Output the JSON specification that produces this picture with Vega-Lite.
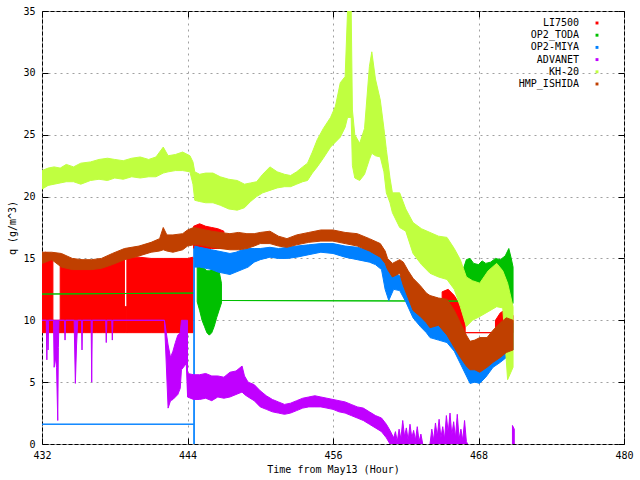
{
  "$schema": "https://vega.github.io/schema/vega-lite/v6.json",
  "width": 582,
  "height": 433,
  "autosize": {"type": "none"},
  "padding": {"left": 42, "top": 11, "right": 16, "bottom": 36},
  "background": "white",
  "config": {
    "font": "DejaVu Sans Mono",
    "view": {"stroke": "black", "strokeWidth": 1},
    "axis": {
      "labelFont": "DejaVu Sans Mono", "labelFontSize": 10, "labelColor": "black", "labelFlush": false,
      "titleFont": "DejaVu Sans Mono", "titleFontSize": 10, "titleFontWeight": "normal", "titleColor": "black",
      "tickColor": "black", "tickSize": -6, "domain": false,
      "gridColor": "#a0a0a0", "gridDash": [2, 4], "gridWidth": 1
    }
  },
  "datasets": {
    "li7500": [
      {"g": 1, "h": 432.0, "lo": 9, "hi": 15.3}, {"g": 1, "h": 432.3, "lo": 9, "hi": 15.5}, {"g": 1, "h": 432.6, "lo": 9, "hi": 15.4}, {"g": 1, "h": 432.9, "lo": 9, "hi": 15.2},
      {"g": 2, "h": 432.9, "lo": 9, "hi": 10}, {"g": 2, "h": 433.5, "lo": 9, "hi": 10},
      {"g": 3, "h": 433.5, "lo": 9, "hi": 14.6}, {"g": 3, "h": 434.0, "lo": 9, "hi": 14.4}, {"g": 3, "h": 434.5, "lo": 9, "hi": 14.3}, {"g": 3, "h": 435.0, "lo": 9, "hi": 14.3}, {"g": 3, "h": 435.5, "lo": 9, "hi": 14.4}, {"g": 3, "h": 436.0, "lo": 9, "hi": 14.4}, {"g": 3, "h": 436.5, "lo": 9, "hi": 14.5}, {"g": 3, "h": 437.0, "lo": 9, "hi": 14.6}, {"g": 3, "h": 437.5, "lo": 9, "hi": 14.7}, {"g": 3, "h": 438.0, "lo": 9, "hi": 14.8}, {"g": 3, "h": 438.8, "lo": 9, "hi": 14.9},
      {"g": 4, "h": 438.8, "lo": 9, "hi": 11.1}, {"g": 4, "h": 439.0, "lo": 9, "hi": 11.1},
      {"g": 5, "h": 439.0, "lo": 9, "hi": 15.0}, {"g": 5, "h": 439.5, "lo": 9, "hi": 15.1}, {"g": 5, "h": 440.0, "lo": 9, "hi": 15.1}, {"g": 5, "h": 441.0, "lo": 9, "hi": 15.0}, {"g": 5, "h": 442.0, "lo": 9, "hi": 15.0}, {"g": 5, "h": 443.0, "lo": 9, "hi": 15.0}, {"g": 5, "h": 444.0, "lo": 9, "hi": 15.0}, {"g": 5, "h": 444.45, "lo": 9, "hi": 15.1},
      {"g": 6, "h": 444.5, "lo": 15.8, "hi": 17.6}, {"g": 6, "h": 445.0, "lo": 15.8, "hi": 17.8}, {"g": 6, "h": 445.5, "lo": 15.8, "hi": 17.6}, {"g": 6, "h": 446.0, "lo": 15.8, "hi": 17.5}, {"g": 6, "h": 446.5, "lo": 15.8, "hi": 17.4}, {"g": 6, "h": 447.0, "lo": 15.8, "hi": 17.2},
      {"g": 7, "h": 465.0, "lo": 9.5, "hi": 12.3}, {"g": 7, "h": 465.5, "lo": 9.5, "hi": 12.5}, {"g": 7, "h": 466.0, "lo": 9.2, "hi": 12.0}, {"g": 7, "h": 466.5, "lo": 9.0, "hi": 11.2}, {"g": 7, "h": 466.9, "lo": 9.0, "hi": 9.6},
      {"g": 8, "h": 466.9, "lo": 9.0, "hi": 9.0}, {"g": 8, "h": 469.4, "lo": 9.0, "hi": 9.0},
      {"g": 9, "h": 469.4, "lo": 9.0, "hi": 10.0}, {"g": 9, "h": 469.8, "lo": 9.0, "hi": 10.6}, {"g": 9, "h": 470.3, "lo": 9.0, "hi": 10.9}, {"g": 9, "h": 470.85, "lo": 9.0, "hi": 10.4}
    ],
    "toda": [
      {"g": 1, "h": 432.0, "lo": 12.12, "hi": 12.12}, {"g": 1, "h": 444.5, "lo": 12.2, "hi": 12.2},
      {"g": 2, "h": 444.8, "lo": 11.5, "hi": 14.3}, {"g": 2, "h": 445.0, "lo": 10.8, "hi": 14.5}, {"g": 2, "h": 445.2, "lo": 10.0, "hi": 14.3}, {"g": 2, "h": 445.4, "lo": 9.5, "hi": 14.2}, {"g": 2, "h": 445.6, "lo": 9.0, "hi": 14.0}, {"g": 2, "h": 445.8, "lo": 8.8, "hi": 14.0}, {"g": 2, "h": 446.0, "lo": 9.0, "hi": 14.1}, {"g": 2, "h": 446.2, "lo": 9.5, "hi": 14.2}, {"g": 2, "h": 446.4, "lo": 10.2, "hi": 14.2}, {"g": 2, "h": 446.6, "lo": 10.8, "hi": 14.0}, {"g": 2, "h": 446.8, "lo": 11.4, "hi": 13.0},
      {"g": 3, "h": 446.8, "lo": 11.6, "hi": 11.6}, {"g": 3, "h": 466.5, "lo": 11.55, "hi": 11.55},
      {"g": 4, "h": 466.5, "lo": 12.5, "hi": 13.5}, {"g": 4, "h": 466.8, "lo": 11.5, "hi": 14.3}, {"g": 4, "h": 467.0, "lo": 11.1, "hi": 14.9}, {"g": 4, "h": 467.3, "lo": 11.2, "hi": 15.0}, {"g": 4, "h": 467.6, "lo": 11.3, "hi": 14.6}, {"g": 4, "h": 468.0, "lo": 11.4, "hi": 14.5}, {"g": 4, "h": 468.3, "lo": 11.8, "hi": 14.8}, {"g": 4, "h": 468.6, "lo": 11.9, "hi": 14.6}, {"g": 4, "h": 469.0, "lo": 11.9, "hi": 14.7}, {"g": 4, "h": 469.4, "lo": 11.6, "hi": 15.0}, {"g": 4, "h": 469.8, "lo": 11.4, "hi": 14.9}, {"g": 4, "h": 470.2, "lo": 11.2, "hi": 15.2}, {"g": 4, "h": 470.5, "lo": 11.0, "hi": 15.8}, {"g": 4, "h": 470.7, "lo": 11.1, "hi": 15.0}, {"g": 4, "h": 470.85, "lo": 11.4, "hi": 14.3}
    ],
    "miya": [
      {"g": 1, "h": 432.0, "lo": 1.6, "hi": 1.6}, {"g": 1, "h": 444.5, "lo": 1.6, "hi": 1.6},
      {"g": 2, "h": 444.52, "lo": 0, "hi": 15.8}, {"g": 2, "h": 444.56, "lo": 0, "hi": 15.8},
      {"g": 3, "h": 444.6, "lo": 14.3, "hi": 16.0}, {"g": 3, "h": 445.0, "lo": 14.3, "hi": 15.9}, {"g": 3, "h": 445.5, "lo": 14.2, "hi": 15.8}, {"g": 3, "h": 446.0, "lo": 14.1, "hi": 15.7}, {"g": 3, "h": 446.5, "lo": 13.9, "hi": 15.6}, {"g": 3, "h": 447.0, "lo": 13.8, "hi": 15.5}, {"g": 3, "h": 447.5, "lo": 13.7, "hi": 15.4}, {"g": 3, "h": 448.0, "lo": 13.9, "hi": 15.5}, {"g": 3, "h": 448.5, "lo": 14.1, "hi": 15.7}, {"g": 3, "h": 449.0, "lo": 14.3, "hi": 15.8}, {"g": 3, "h": 449.5, "lo": 14.7, "hi": 15.8}, {"g": 3, "h": 450.0, "lo": 14.9, "hi": 15.8}, {"g": 3, "h": 450.8, "lo": 15.1, "hi": 15.9}, {"g": 3, "h": 451.5, "lo": 15.0, "hi": 15.8}, {"g": 3, "h": 452.2, "lo": 15.0, "hi": 15.9}, {"g": 3, "h": 453.0, "lo": 15.1, "hi": 16.0}, {"g": 3, "h": 454.0, "lo": 15.3, "hi": 16.1}, {"g": 3, "h": 455.0, "lo": 15.5, "hi": 16.2}, {"g": 3, "h": 456.0, "lo": 15.4, "hi": 16.2}, {"g": 3, "h": 457.0, "lo": 15.1, "hi": 16.0}, {"g": 3, "h": 458.0, "lo": 14.9, "hi": 15.9}, {"g": 3, "h": 459.0, "lo": 14.7, "hi": 15.7}, {"g": 3, "h": 459.5, "lo": 14.5, "hi": 15.5}, {"g": 3, "h": 460.0, "lo": 14.1, "hi": 15.2}, {"g": 3, "h": 460.3, "lo": 12.5, "hi": 14.6}, {"g": 3, "h": 460.6, "lo": 11.6, "hi": 14.3}, {"g": 3, "h": 461.0, "lo": 12.5, "hi": 13.9}, {"g": 3, "h": 461.5, "lo": 12.4, "hi": 13.6}, {"g": 3, "h": 462.0, "lo": 11.5, "hi": 13.0}, {"g": 3, "h": 462.6, "lo": 10.2, "hi": 12.2}, {"g": 3, "h": 463.2, "lo": 9.5, "hi": 11.4}, {"g": 3, "h": 463.7, "lo": 9.0, "hi": 10.6}, {"g": 3, "h": 464.0, "lo": 8.6, "hi": 10.8}, {"g": 3, "h": 464.7, "lo": 8.4, "hi": 10.5}, {"g": 3, "h": 465.4, "lo": 8.2, "hi": 10.3}, {"g": 3, "h": 466.0, "lo": 7.5, "hi": 9.5}, {"g": 3, "h": 466.5, "lo": 6.5, "hi": 8.6}, {"g": 3, "h": 467.0, "lo": 5.5, "hi": 7.6}, {"g": 3, "h": 467.3, "lo": 4.9, "hi": 7.0}, {"g": 3, "h": 467.7, "lo": 5.0, "hi": 7.3}, {"g": 3, "h": 468.1, "lo": 4.9, "hi": 7.6}, {"g": 3, "h": 468.6, "lo": 5.4, "hi": 8.0}, {"g": 3, "h": 469.2, "lo": 6.2, "hi": 8.6}, {"g": 3, "h": 469.8, "lo": 6.6, "hi": 9.2}, {"g": 3, "h": 470.3, "lo": 7.0, "hi": 9.8}, {"g": 3, "h": 470.85, "lo": 7.6, "hi": 9.8}
    ],
    "advanet": [
      {"g": 1, "h": 432.0, "lo": 10, "hi": 10}, {"g": 1, "h": 432.35, "lo": 10, "hi": 10}, {"g": 1, "h": 432.4, "lo": 6.8, "hi": 10}, {"g": 1, "h": 432.45, "lo": 10, "hi": 10}, {"g": 1, "h": 432.5, "lo": 7.6, "hi": 10}, {"g": 1, "h": 432.55, "lo": 10, "hi": 10}, {"g": 1, "h": 432.95, "lo": 10, "hi": 10}, {"g": 1, "h": 433.0, "lo": 6.2, "hi": 10}, {"g": 1, "h": 433.1, "lo": 7.0, "hi": 10}, {"g": 1, "h": 433.2, "lo": 6.2, "hi": 10}, {"g": 1, "h": 433.3, "lo": 1.9, "hi": 10}, {"g": 1, "h": 433.35, "lo": 7.8, "hi": 10}, {"g": 1, "h": 433.4, "lo": 10, "hi": 10}, {"g": 1, "h": 433.85, "lo": 10, "hi": 10}, {"g": 1, "h": 433.9, "lo": 8.4, "hi": 10}, {"g": 1, "h": 433.95, "lo": 10, "hi": 10}, {"g": 1, "h": 434.65, "lo": 10, "hi": 10}, {"g": 1, "h": 434.75, "lo": 4.9, "hi": 10}, {"g": 1, "h": 434.85, "lo": 8.0, "hi": 10}, {"g": 1, "h": 434.95, "lo": 10, "hi": 10}, {"g": 1, "h": 435.25, "lo": 10, "hi": 10}, {"g": 1, "h": 435.3, "lo": 7.6, "hi": 10}, {"g": 1, "h": 435.35, "lo": 10, "hi": 10}, {"g": 1, "h": 436.05, "lo": 10, "hi": 10}, {"g": 1, "h": 436.1, "lo": 5.0, "hi": 10}, {"g": 1, "h": 436.15, "lo": 10, "hi": 10}, {"g": 1, "h": 437.25, "lo": 10, "hi": 10}, {"g": 1, "h": 437.3, "lo": 8.2, "hi": 10}, {"g": 1, "h": 437.35, "lo": 10, "hi": 10}, {"g": 1, "h": 437.75, "lo": 10, "hi": 10}, {"g": 1, "h": 437.8, "lo": 8.4, "hi": 10}, {"g": 1, "h": 437.85, "lo": 10, "hi": 10}, {"g": 1, "h": 442.1, "lo": 10, "hi": 10}, {"g": 1, "h": 442.4, "lo": 2.9, "hi": 8.0}, {"g": 1, "h": 442.6, "lo": 3.5, "hi": 7.0}, {"g": 1, "h": 442.8, "lo": 3.6, "hi": 7.5}, {"g": 1, "h": 443.0, "lo": 3.8, "hi": 8.2}, {"g": 1, "h": 443.2, "lo": 4.0, "hi": 8.8}, {"g": 1, "h": 443.4, "lo": 4.5, "hi": 9.0}, {"g": 1, "h": 443.5, "lo": 6.0, "hi": 10}, {"g": 1, "h": 443.9, "lo": 6.5, "hi": 10}, {"g": 1, "h": 444.0, "lo": 4.0, "hi": 10},
      {"g": 2, "h": 444.0, "lo": 3.8, "hi": 5.7}, {"g": 2, "h": 444.5, "lo": 3.6, "hi": 5.6}, {"g": 2, "h": 445.0, "lo": 3.6, "hi": 5.6}, {"g": 2, "h": 445.5, "lo": 3.7, "hi": 5.7}, {"g": 2, "h": 446.0, "lo": 3.5, "hi": 5.5}, {"g": 2, "h": 446.5, "lo": 3.8, "hi": 5.5}, {"g": 2, "h": 447.0, "lo": 3.7, "hi": 5.4}, {"g": 2, "h": 447.5, "lo": 3.8, "hi": 5.8}, {"g": 2, "h": 448.0, "lo": 4.0, "hi": 5.9}, {"g": 2, "h": 448.5, "lo": 4.2, "hi": 6.3}, {"g": 2, "h": 448.7, "lo": 4.0, "hi": 5.5}, {"g": 2, "h": 449.0, "lo": 3.8, "hi": 5.0}, {"g": 2, "h": 449.5, "lo": 3.5, "hi": 4.8}, {"g": 2, "h": 450.0, "lo": 3.0, "hi": 4.3}, {"g": 2, "h": 450.5, "lo": 2.8, "hi": 3.9}, {"g": 2, "h": 451.0, "lo": 2.6, "hi": 3.6}, {"g": 2, "h": 451.5, "lo": 2.5, "hi": 3.4}, {"g": 2, "h": 452.0, "lo": 2.4, "hi": 3.2}, {"g": 2, "h": 452.5, "lo": 2.5, "hi": 3.3}, {"g": 2, "h": 453.0, "lo": 2.7, "hi": 3.5}, {"g": 2, "h": 453.5, "lo": 2.9, "hi": 3.7}, {"g": 2, "h": 454.0, "lo": 3.0, "hi": 3.8}, {"g": 2, "h": 454.5, "lo": 3.0, "hi": 3.9}, {"g": 2, "h": 455.0, "lo": 3.0, "hi": 3.8}, {"g": 2, "h": 455.5, "lo": 2.9, "hi": 3.7}, {"g": 2, "h": 456.0, "lo": 2.8, "hi": 3.6}, {"g": 2, "h": 456.5, "lo": 2.6, "hi": 3.5}, {"g": 2, "h": 457.0, "lo": 2.5, "hi": 3.4}, {"g": 2, "h": 457.5, "lo": 2.3, "hi": 3.2}, {"g": 2, "h": 458.0, "lo": 2.1, "hi": 3.0}, {"g": 2, "h": 458.5, "lo": 1.9, "hi": 2.9}, {"g": 2, "h": 459.0, "lo": 1.6, "hi": 2.6}, {"g": 2, "h": 459.5, "lo": 1.3, "hi": 2.3}, {"g": 2, "h": 460.0, "lo": 1.0, "hi": 2.1}, {"g": 2, "h": 460.4, "lo": 0.5, "hi": 1.6}, {"g": 2, "h": 460.7, "lo": 0, "hi": 1.1}, {"g": 2, "h": 461.0, "lo": 0, "hi": 0.5}, {"g": 2, "h": 461.15, "lo": 0, "hi": 1.0}, {"g": 2, "h": 461.3, "lo": 0, "hi": 0.2}, {"g": 2, "h": 461.45, "lo": 0, "hi": 1.2}, {"g": 2, "h": 461.6, "lo": 0, "hi": 0.4}, {"g": 2, "h": 461.75, "lo": 0, "hi": 1.9}, {"g": 2, "h": 461.9, "lo": 0, "hi": 0.6}, {"g": 2, "h": 462.05, "lo": 0, "hi": 1.3}, {"g": 2, "h": 462.2, "lo": 0, "hi": 0.3}, {"g": 2, "h": 462.35, "lo": 0, "hi": 1.6}, {"g": 2, "h": 462.5, "lo": 0, "hi": 0.5}, {"g": 2, "h": 462.65, "lo": 0, "hi": 1.1}, {"g": 2, "h": 462.8, "lo": 0, "hi": 0.3}, {"g": 2, "h": 462.95, "lo": 0, "hi": 1.4}, {"g": 2, "h": 463.1, "lo": 0, "hi": 0.2}, {"g": 2, "h": 463.25, "lo": 0, "hi": 0.8}, {"g": 2, "h": 463.4, "lo": 0, "hi": 0},
      {"g": 3, "h": 464.0, "lo": 0, "hi": 0}, {"g": 3, "h": 464.15, "lo": 0, "hi": 1.2}, {"g": 3, "h": 464.3, "lo": 0, "hi": 0.3}, {"g": 3, "h": 464.45, "lo": 0, "hi": 1.7}, {"g": 3, "h": 464.6, "lo": 0, "hi": 0.6}, {"g": 3, "h": 464.75, "lo": 0, "hi": 2.0}, {"g": 3, "h": 464.9, "lo": 0, "hi": 0.5}, {"g": 3, "h": 465.05, "lo": 0, "hi": 1.4}, {"g": 3, "h": 465.2, "lo": 0, "hi": 0.4}, {"g": 3, "h": 465.35, "lo": 0, "hi": 2.3}, {"g": 3, "h": 465.5, "lo": 0, "hi": 0.9}, {"g": 3, "h": 465.65, "lo": 0, "hi": 2.5}, {"g": 3, "h": 465.8, "lo": 0, "hi": 0.7}, {"g": 3, "h": 465.95, "lo": 0, "hi": 1.8}, {"g": 3, "h": 466.1, "lo": 0, "hi": 0.5}, {"g": 3, "h": 466.25, "lo": 0, "hi": 2.4}, {"g": 3, "h": 466.4, "lo": 0, "hi": 0.4}, {"g": 3, "h": 466.55, "lo": 0, "hi": 1.2}, {"g": 3, "h": 466.7, "lo": 0, "hi": 0.3}, {"g": 3, "h": 466.85, "lo": 0, "hi": 1.9}, {"g": 3, "h": 467.0, "lo": 0, "hi": 0.2}, {"g": 3, "h": 467.1, "lo": 0, "hi": 0},
      {"g": 4, "h": 470.8, "lo": 0, "hi": 1.5}, {"g": 4, "h": 470.95, "lo": 0, "hi": 1.2}
    ],
    "kh20": [
      {"g": 1, "h": 432.0, "lo": 20.6, "hi": 22.1}, {"g": 1, "h": 432.5, "lo": 20.9, "hi": 22.3}, {"g": 1, "h": 433.0, "lo": 21.0, "hi": 22.4}, {"g": 1, "h": 433.5, "lo": 21.1, "hi": 22.3}, {"g": 1, "h": 434.0, "lo": 21.2, "hi": 22.6}, {"g": 1, "h": 434.6, "lo": 21.2, "hi": 22.4}, {"g": 1, "h": 435.2, "lo": 21.0, "hi": 22.7}, {"g": 1, "h": 436.0, "lo": 21.3, "hi": 22.8}, {"g": 1, "h": 436.7, "lo": 21.4, "hi": 23.0}, {"g": 1, "h": 437.4, "lo": 21.3, "hi": 23.1}, {"g": 1, "h": 438.0, "lo": 21.5, "hi": 23.0}, {"g": 1, "h": 438.7, "lo": 21.4, "hi": 22.9}, {"g": 1, "h": 439.4, "lo": 21.6, "hi": 23.1}, {"g": 1, "h": 440.1, "lo": 21.5, "hi": 23.2}, {"g": 1, "h": 440.8, "lo": 21.6, "hi": 23.0}, {"g": 1, "h": 441.4, "lo": 21.6, "hi": 23.2}, {"g": 1, "h": 442.0, "lo": 21.9, "hi": 24.0}, {"g": 1, "h": 442.4, "lo": 22.0, "hi": 23.3}, {"g": 1, "h": 443.0, "lo": 22.1, "hi": 23.4}, {"g": 1, "h": 443.6, "lo": 22.1, "hi": 23.6}, {"g": 1, "h": 444.2, "lo": 22.0, "hi": 23.3}, {"g": 1, "h": 444.45, "lo": 21.0, "hi": 22.8},
      {"g": 1, "h": 444.6, "lo": 19.7, "hi": 22.0}, {"g": 1, "h": 445.0, "lo": 19.6, "hi": 21.8}, {"g": 1, "h": 445.5, "lo": 19.5, "hi": 21.9}, {"g": 1, "h": 446.1, "lo": 19.5, "hi": 21.9}, {"g": 1, "h": 446.7, "lo": 19.3, "hi": 21.6}, {"g": 1, "h": 447.4, "lo": 19.0, "hi": 21.4}, {"g": 1, "h": 448.1, "lo": 18.9, "hi": 21.3}, {"g": 1, "h": 448.7, "lo": 19.1, "hi": 21.0}, {"g": 1, "h": 449.2, "lo": 19.6, "hi": 21.1}, {"g": 1, "h": 449.7, "lo": 20.0, "hi": 21.2}, {"g": 1, "h": 450.2, "lo": 20.3, "hi": 21.8}, {"g": 1, "h": 450.8, "lo": 20.5, "hi": 22.4}, {"g": 1, "h": 451.4, "lo": 20.7, "hi": 22.0}, {"g": 1, "h": 452.0, "lo": 20.8, "hi": 21.8}, {"g": 1, "h": 452.5, "lo": 20.8, "hi": 21.7}, {"g": 1, "h": 453.0, "lo": 21.0, "hi": 22.0}, {"g": 1, "h": 453.5, "lo": 21.2, "hi": 22.4}, {"g": 1, "h": 453.9, "lo": 21.3, "hi": 22.7}, {"g": 1, "h": 454.3, "lo": 21.9, "hi": 23.6}, {"g": 1, "h": 454.7, "lo": 22.4, "hi": 24.6}, {"g": 1, "h": 455.2, "lo": 23.1, "hi": 25.5}, {"g": 1, "h": 455.8, "lo": 24.0, "hi": 26.4}, {"g": 1, "h": 456.2, "lo": 24.4, "hi": 27.3}, {"g": 1, "h": 456.6, "lo": 24.8, "hi": 29.2}, {"g": 1, "h": 457.0, "lo": 25.6, "hi": 29.7}, {"g": 1, "h": 457.2, "lo": 26.4, "hi": 35}, {"g": 1, "h": 457.5, "lo": 26.4, "hi": 35}, {"g": 1, "h": 457.6, "lo": 22.5, "hi": 27.0}, {"g": 1, "h": 457.8, "lo": 21.5, "hi": 25.0}, {"g": 1, "h": 458.2, "lo": 21.3, "hi": 24.3}, {"g": 1, "h": 458.6, "lo": 21.8, "hi": 25.5}, {"g": 1, "h": 459.0, "lo": 23.0, "hi": 30.5}, {"g": 1, "h": 459.2, "lo": 23.5, "hi": 31.7}, {"g": 1, "h": 459.5, "lo": 23.3, "hi": 29.5}, {"g": 1, "h": 459.9, "lo": 23.2, "hi": 27.8}, {"g": 1, "h": 460.2, "lo": 22.0, "hi": 25.5}, {"g": 1, "h": 460.4, "lo": 20.3, "hi": 23.8}, {"g": 1, "h": 460.7, "lo": 19.5, "hi": 21.5}, {"g": 1, "h": 460.9, "lo": 18.7, "hi": 20.3}, {"g": 1, "h": 461.5, "lo": 17.5, "hi": 20.3}, {"g": 1, "h": 462.0, "lo": 17.2, "hi": 19.0}, {"g": 1, "h": 462.6, "lo": 15.4, "hi": 17.9}, {"g": 1, "h": 463.3, "lo": 14.5, "hi": 17.4}, {"g": 1, "h": 464.0, "lo": 13.8, "hi": 17.1}, {"g": 1, "h": 464.7, "lo": 13.5, "hi": 16.8}, {"g": 1, "h": 465.4, "lo": 13.3, "hi": 16.7}, {"g": 1, "h": 466.0, "lo": 12.5, "hi": 15.8}, {"g": 1, "h": 466.5, "lo": 11.1, "hi": 14.9}, {"g": 1, "h": 467.0, "lo": 9.5, "hi": 13.5}, {"g": 1, "h": 467.5, "lo": 10.0, "hi": 13.2}, {"g": 1, "h": 468.1, "lo": 10.3, "hi": 13.0}, {"g": 1, "h": 468.8, "lo": 10.7, "hi": 14.0}, {"g": 1, "h": 469.5, "lo": 11.1, "hi": 14.6}, {"g": 1, "h": 470.0, "lo": 11.0, "hi": 14.0}, {"g": 1, "h": 470.4, "lo": 5.2, "hi": 13.0}, {"g": 1, "h": 470.85, "lo": 6.2, "hi": 11.1}
    ],
    "ishida": [
      {"g": 1, "h": 432.0, "lo": 14.6, "hi": 15.5}, {"g": 1, "h": 432.8, "lo": 14.9, "hi": 15.5}, {"g": 1, "h": 433.6, "lo": 14.3, "hi": 15.4}, {"g": 1, "h": 434.5, "lo": 14.1, "hi": 15.0}, {"g": 1, "h": 435.3, "lo": 14.1, "hi": 14.9}, {"g": 1, "h": 436.1, "lo": 14.1, "hi": 14.9}, {"g": 1, "h": 436.9, "lo": 14.2, "hi": 15.0}, {"g": 1, "h": 437.8, "lo": 14.5, "hi": 15.4}, {"g": 1, "h": 438.8, "lo": 14.9, "hi": 15.8}, {"g": 1, "h": 440.0, "lo": 15.2, "hi": 16.0}, {"g": 1, "h": 441.0, "lo": 15.5, "hi": 16.3}, {"g": 1, "h": 441.7, "lo": 15.6, "hi": 16.6}, {"g": 1, "h": 442.0, "lo": 15.7, "hi": 17.5}, {"g": 1, "h": 442.3, "lo": 15.6, "hi": 16.9}, {"g": 1, "h": 442.8, "lo": 15.5, "hi": 16.9}, {"g": 1, "h": 443.6, "lo": 15.7, "hi": 17.0}, {"g": 1, "h": 444.0, "lo": 16.0, "hi": 17.3}, {"g": 1, "h": 444.5, "lo": 16.1, "hi": 17.5},
      {"g": 1, "h": 445.0, "lo": 16.1, "hi": 17.4}, {"g": 1, "h": 445.5, "lo": 16.0, "hi": 17.3}, {"g": 1, "h": 446.0, "lo": 15.9, "hi": 17.2}, {"g": 1, "h": 446.7, "lo": 15.8, "hi": 17.1}, {"g": 1, "h": 447.5, "lo": 15.7, "hi": 17.0}, {"g": 1, "h": 448.2, "lo": 15.7, "hi": 17.1}, {"g": 1, "h": 448.9, "lo": 15.8, "hi": 17.0}, {"g": 1, "h": 449.5, "lo": 16.0, "hi": 17.0}, {"g": 1, "h": 450.0, "lo": 16.2, "hi": 17.1}, {"g": 1, "h": 450.8, "lo": 16.2, "hi": 17.2}, {"g": 1, "h": 451.5, "lo": 16.0, "hi": 16.8}, {"g": 1, "h": 452.2, "lo": 15.9, "hi": 16.6}, {"g": 1, "h": 453.0, "lo": 16.1, "hi": 16.9}, {"g": 1, "h": 454.0, "lo": 16.3, "hi": 17.1}, {"g": 1, "h": 455.0, "lo": 16.4, "hi": 17.3}, {"g": 1, "h": 456.0, "lo": 16.4, "hi": 17.3}, {"g": 1, "h": 457.0, "lo": 16.2, "hi": 17.1}, {"g": 1, "h": 458.0, "lo": 16.0, "hi": 17.0}, {"g": 1, "h": 459.0, "lo": 15.6, "hi": 16.6}, {"g": 1, "h": 459.9, "lo": 15.1, "hi": 16.2}, {"g": 1, "h": 460.3, "lo": 14.6, "hi": 15.6}, {"g": 1, "h": 460.5, "lo": 14.1, "hi": 15.0}, {"g": 1, "h": 460.9, "lo": 13.5, "hi": 14.6}, {"g": 1, "h": 461.5, "lo": 13.8, "hi": 14.9}, {"g": 1, "h": 461.8, "lo": 12.8, "hi": 14.7}, {"g": 1, "h": 462.2, "lo": 11.8, "hi": 14.0}, {"g": 1, "h": 462.6, "lo": 10.8, "hi": 13.4}, {"g": 1, "h": 463.2, "lo": 10.3, "hi": 12.8}, {"g": 1, "h": 463.7, "lo": 9.8, "hi": 12.2}, {"g": 1, "h": 464.0, "lo": 9.4, "hi": 12.0}, {"g": 1, "h": 464.7, "lo": 9.6, "hi": 11.8}, {"g": 1, "h": 465.4, "lo": 8.8, "hi": 11.7}, {"g": 1, "h": 466.0, "lo": 7.8, "hi": 10.8}, {"g": 1, "h": 466.5, "lo": 7.0, "hi": 9.8}, {"g": 1, "h": 467.0, "lo": 6.3, "hi": 8.8}, {"g": 1, "h": 467.3, "lo": 6.0, "hi": 8.3}, {"g": 1, "h": 467.7, "lo": 6.0, "hi": 8.4}, {"g": 1, "h": 468.1, "lo": 5.8, "hi": 8.6}, {"g": 1, "h": 468.7, "lo": 6.2, "hi": 8.6}, {"g": 1, "h": 469.2, "lo": 6.6, "hi": 9.2}, {"g": 1, "h": 469.8, "lo": 7.0, "hi": 9.8}, {"g": 1, "h": 470.3, "lo": 7.4, "hi": 10.2}, {"g": 1, "h": 470.85, "lo": 7.6, "hi": 10.0}
    ]
  },
  "encoding": {
    "x": {"field": "h", "type": "quantitative", "scale": {"domain": [432, 480], "nice": false, "zero": false}, "axis": null},
    "y": {"field": "lo", "type": "quantitative", "scale": {"domain": [0, 35], "nice": false, "zero": false}, "axis": null},
    "y2": {"field": "hi"},
    "detail": {"field": "g", "type": "nominal"}
  },
  "resolve": {"axis": {"x": "independent", "y": "independent"}},
  "layer": [
    {
      "data": {"name": "li7500"},
      "mark": {"type": "area", "clip": true, "strokeWidth": 1},
      "encoding": {
        "x": {"field": "h", "type": "quantitative", "scale": {"domain": [432, 480], "nice": false, "zero": false},
          "axis": {"orient": "bottom", "values": [432, 444, 456, 468, 480], "format": "d", "grid": true, "labelPadding": 12, "title": "Time from May13 (Hour)", "titlePadding": 4}},
        "y": {"field": "lo", "type": "quantitative", "scale": {"domain": [0, 35], "nice": false, "zero": false},
          "axis": {"orient": "left", "values": [0, 5, 10, 15, 20, 25, 30, 35], "format": "d", "grid": true, "labelPadding": 13, "title": "q (g/m^3)", "titlePadding": 5}},
        "color": {"datum": "LI7500", "type": "nominal",
          "scale": {"domain": ["LI7500", "OP2_TODA", "OP2-MIYA", "ADVANET", "KH-20", "HMP_ISHIDA"], "range": ["#ff0000", "#00c000", "#0080ff", "#c000ff", "#c0ff40", "#c04000"]},
          "legend": {"orient": "none", "legendX": 550, "legendY": 7, "title": null, "labelFont": "DejaVu Sans Mono", "labelFontSize": 10, "labelAlign": "right", "labelOffset": -23, "symbolType": "square", "symbolSize": 2, "rowPadding": 2.2,
            "encode": {"labels": {"update": {"fill": {"scale": "color", "field": "value"}}}}}},
        "stroke": {"datum": "LI7500", "type": "nominal", "scale": {"domain": ["LI7500", "OP2_TODA", "OP2-MIYA", "ADVANET", "KH-20", "HMP_ISHIDA"], "range": ["#ff0000", "#00c000", "#0080ff", "#c000ff", "#c0ff40", "#c04000"]}, "legend": null}
      }
    },
    {
      "data": {"name": "toda"},
      "mark": {"type": "area", "clip": true, "strokeWidth": 1},
      "encoding": {
        "color": {"datum": "OP2_TODA", "type": "nominal"},
        "stroke": {"datum": "OP2_TODA", "type": "nominal", "legend": null}
      }
    },
    {
      "data": {"name": "miya"},
      "mark": {"type": "area", "clip": true, "strokeWidth": 1},
      "encoding": {
        "color": {"datum": "OP2-MIYA", "type": "nominal"},
        "stroke": {"datum": "OP2-MIYA", "type": "nominal", "legend": null}
      }
    },
    {
      "data": {"name": "advanet"},
      "mark": {"type": "area", "clip": true, "strokeWidth": 1},
      "encoding": {
        "color": {"datum": "ADVANET", "type": "nominal"},
        "stroke": {"datum": "ADVANET", "type": "nominal", "legend": null}
      }
    },
    {
      "data": {"name": "kh20"},
      "mark": {"type": "area", "clip": true, "strokeWidth": 1},
      "encoding": {
        "color": {"datum": "KH-20", "type": "nominal"},
        "stroke": {"datum": "KH-20", "type": "nominal", "legend": null}
      }
    },
    {
      "data": {"name": "ishida"},
      "mark": {"type": "area", "clip": true, "strokeWidth": 1},
      "encoding": {
        "x": {"field": "h", "type": "quantitative", "scale": {"domain": [432, 480], "nice": false, "zero": false},
          "axis": {"orient": "top", "values": [432, 444, 456, 468, 480], "labels": false, "grid": false, "title": null}},
        "y": {"field": "lo", "type": "quantitative", "scale": {"domain": [0, 35], "nice": false, "zero": false},
          "axis": {"orient": "right", "values": [0, 5, 10, 15, 20, 25, 30, 35], "labels": false, "grid": false, "title": null}},
        "color": {"datum": "HMP_ISHIDA", "type": "nominal"},
        "stroke": {"datum": "HMP_ISHIDA", "type": "nominal", "legend": null}
      }
    }
  ]
}
